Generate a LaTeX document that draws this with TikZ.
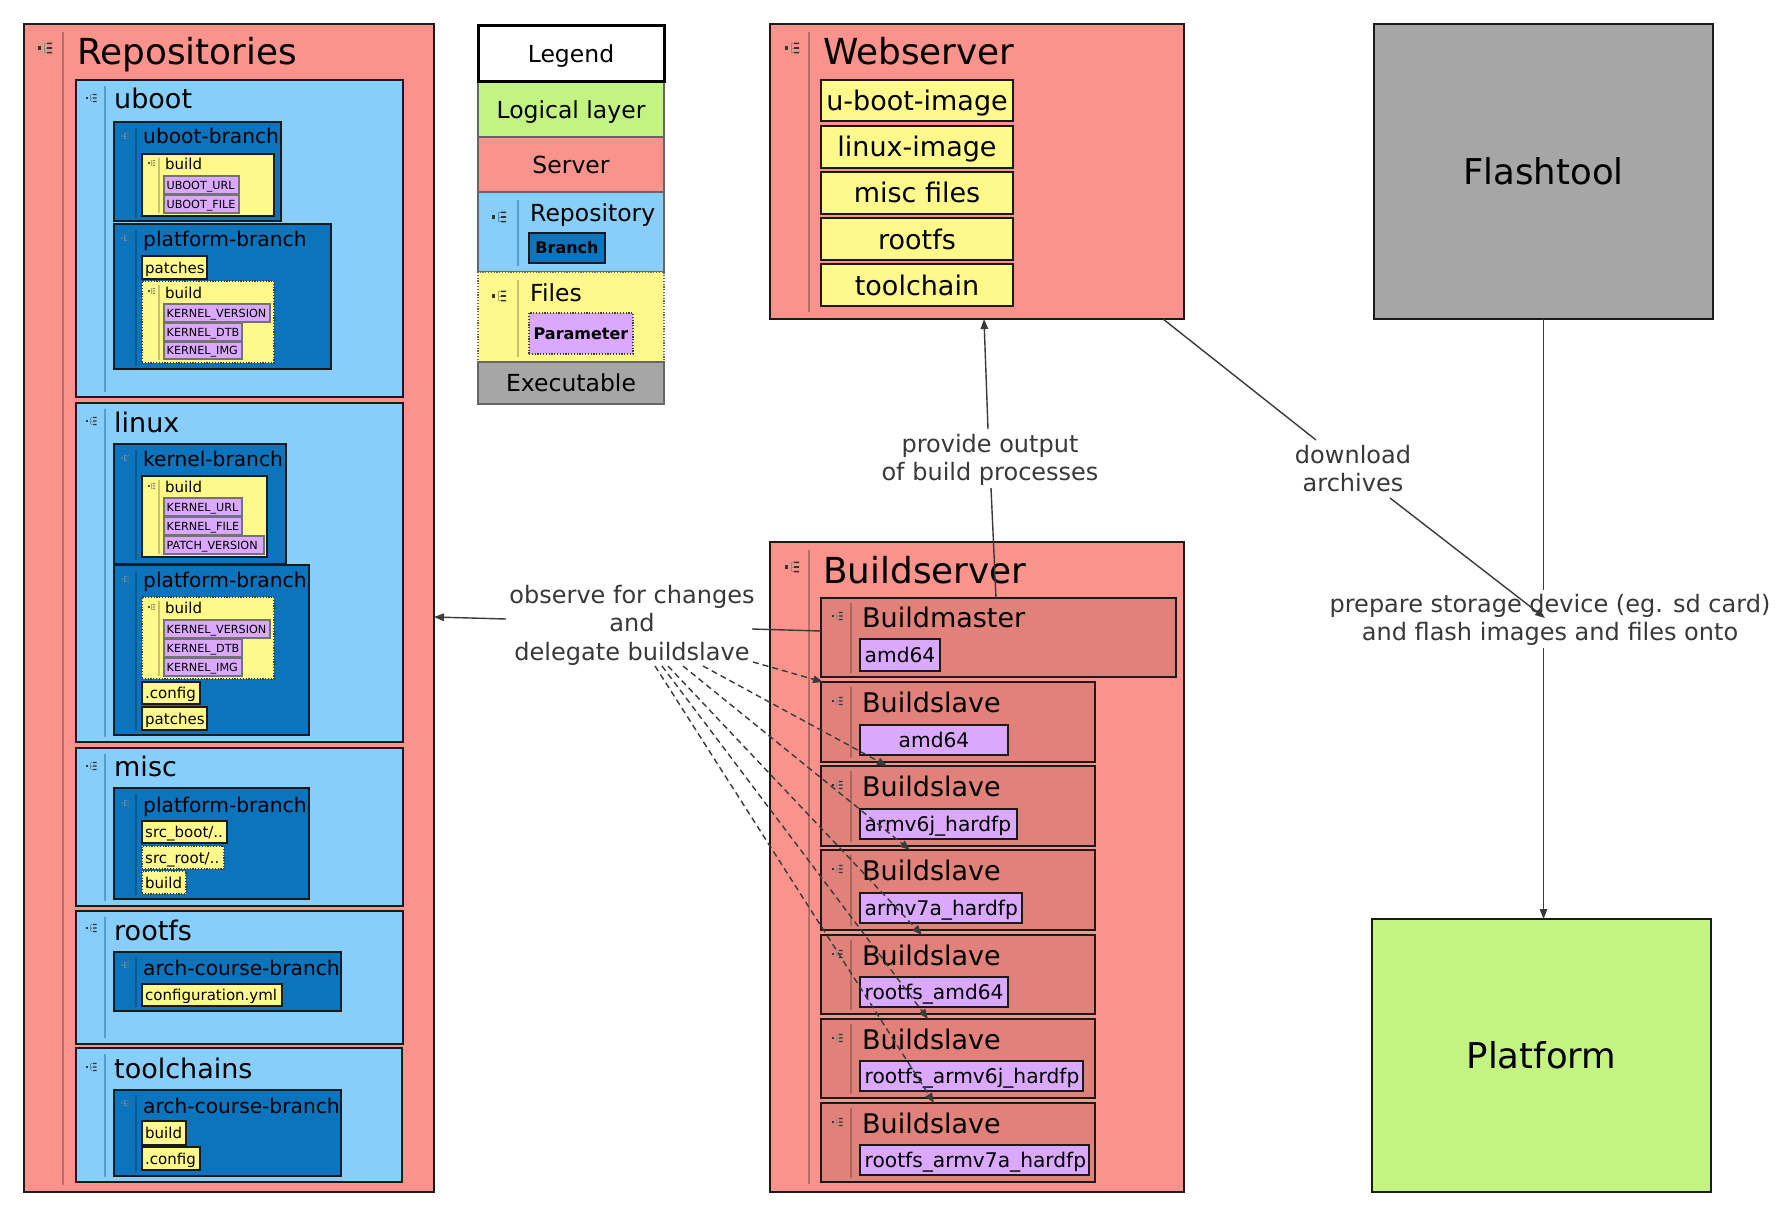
\documentclass[tikz,border=0pt]{standalone}
\usepackage{fontspec}
\setmainfont{DejaVu Sans}
\usetikzlibrary{arrows.meta}
\definecolor{srv}{HTML}{FA938C}
\definecolor{slv}{HTML}{E0827A}
\definecolor{lblue}{HTML}{87CEFA}
\definecolor{dblue}{HTML}{0B74BC}
\definecolor{yel}{HTML}{FFF98C}
\definecolor{purp}{HTML}{DAA8FC}
\definecolor{grn}{HTML}{C2F383}
\definecolor{gry}{HTML}{A6A6A6}
\definecolor{bord}{HTML}{1A1A1A}
\definecolor{edgec}{HTML}{3A3A3A}
\definecolor{elabc}{HTML}{383838}
\definecolor{sepS}{HTML}{B46F6A}
\definecolor{sepB}{HTML}{5A9CC8}
\definecolor{sepD}{HTML}{0A5A92}
\definecolor{sepY}{HTML}{C8C170}
\definecolor{sepL}{HTML}{A86660}
\definecolor{icLB}{HTML}{5D8CAE}
\definecolor{icLD}{HTML}{5B8FBF}
\definecolor{icLY}{HTML}{B0AA70}

\newcommand\bx[6]{\node[#6, minimum width={(#4-#2)*1pt}, minimum height={(#5-#3)*1pt}] (#1) at (#2,#3) {};}
\newcommand\tbl[9]{\bx{#1}{#2}{#3}{#4}{#5}{#6}\node[#7, anchor=west] (#1t) at ([xshift=#9pt]#1.west) {#8};}
\newcommand\tbc[8]{\bx{#1}{#2}{#3}{#4}{#5}{#6}\node[#7, anchor=center] (#1t) at (#1.center) {#8};}
\newcommand\ttl[5]{\node[#4, anchor=base west] (#1) at (#2,#3) {#5};}
\newcommand\sepl[4]{\draw[line width=1.2pt, #4] (#1,#2) -- (#1,#3);}
\newcommand\icn[5]{%
\begin{scope}[shift={(#1,#2)}, scale=#3]
\fill[#4] (0,-1.6) rectangle (3.2,1.6);
\draw[#5, line width=0.9pt] (6,-4.6) -- (6,4.6) (6,-4.6) -- (8.5,-4.6) (6,0) -- (8.5,0) (6,4.6) -- (8.5,4.6);
\fill[#4] (9,-5.4) rectangle (14,-3.8) (9,-0.8) rectangle (14,0.8) (9,3.8) rectangle (14,5.4);
\end{scope}}

\begin{document}
\begin{tikzpicture}[x=1pt,y=-1pt,
  box/.style={anchor=north west, inner sep=0pt, outer sep=0pt, draw=bord, line width=1.5pt},
  server/.style={box, fill=srv},
  slave/.style={box, fill=slv},
  repo/.style={box, fill=lblue},
  branch/.style={box, fill=dblue},
  file/.style={box, fill=yel},
  filedot/.style={box, fill=yel, draw=black!75, line width=1.2pt, dash pattern=on 1.2pt off 1.6pt},
  param/.style={box, fill=purp, draw=black!55, line width=1.2pt},
  bparam/.style={box, fill=purp, draw=bord, line width=1.3pt},
  lrow/.style={box, draw=black!60, line width=1.2pt},
  fA/.style={font=\fontsize{35.8}{42}\selectfont, text height=29.7pt, text depth=3.2pt, inner sep=0pt},
  fT/.style={font=\fontsize{35.5}{42}\selectfont, text height=29.5pt, text depth=3.2pt, inner sep=0pt},
  fB/.style={font=\fontsize{27}{32}\selectfont, text height=22.4pt, text depth=2.4pt, inner sep=0pt},
  fC/.style={font=\fontsize{20.2}{24}\selectfont, text height=16.8pt, text depth=1.8pt, inner sep=0pt},
  fD/.style={font=\fontsize{15}{18}\selectfont, text height=12.45pt, text depth=1.35pt, inner sep=0pt},
  fE/.style={font=\fontsize{11.2}{13}\selectfont, text height=9.3pt, text depth=1.0pt, inner sep=0pt},
  fL/.style={font=\fontsize{23.5}{28}\selectfont, text height=19.5pt, text depth=2.1pt, inner sep=0pt},
  fLB/.style={font=\fontsize{16}{19}\selectfont\bfseries, text height=13.3pt, text depth=1.4pt, inner sep=0pt},
  fEL/.style={font=\fontsize{24}{28.5}\selectfont, text=elabc, align=center, inner sep=0pt},
  edgeline/.style={draw=edgec, line width=1.4pt},
  arr/.style={edgeline, -{Triangle[length=10pt,width=7.5pt]}},
  darr/.style={arr, dash pattern=on 6pt off 4pt}
]
\fill[white] (0,0) rectangle (1780,1217);
\useasboundingbox (0,0) rectangle (1780,1217);

% ================= Repositories =================
\bx{repos}{24}{24}{434}{1192}{server}
\sepl{63}{32}{1185}{sepS}
\icn{38}{48}{1}{black!80}{black!45}
\ttl{reposT}{77}{64.5}{fA}{Repositories}

% uboot
\bx{uboot}{76}{80}{403}{397}{repo}
\sepl{105}{86}{392}{sepB}
\icn{86}{98}{0.75}{black!80}{icLB}
\ttl{ubootT}{114}{109}{fB}{uboot}

\bx{ubbr}{114}{122}{281}{221}{branch}
\sepl{136}{128}{218}{sepD}
\icn{121}{136}{0.6}{black!55}{icLD}
\ttl{ubbrT}{143}{144}{fC}{uboot-branch}
\bx{ubbuild}{142}{154}{274}{216}{file}
\sepl{159}{158}{213}{sepY}
\icn{148}{163}{0.5}{black!70}{icLY}
\ttl{ubbuildT}{165}{170}{fD}{build}
\tbl{pu1}{164}{176}{239}{194}{param}{fE}{UBOOT\_URL}{2.5}
\tbl{pu2}{164}{195}{239}{213}{param}{fE}{UBOOT\_FILE}{2.5}

\bx{ubplat}{114}{224}{331}{369}{branch}
\sepl{136}{230}{366}{sepD}
\icn{121}{238}{0.6}{black!55}{icLD}
\ttl{ubplatT}{143}{247}{fC}{platform-branch}
\tbl{ubpatch}{142}{256}{207}{279}{file}{fD}{patches}{3}
\bx{ubbuild2}{142}{281}{274}{363}{filedot}
\sepl{159}{285}{360}{sepY}
\icn{148}{291}{0.5}{black!70}{icLY}
\ttl{ubbuild2T}{165}{298}{fD}{build}
\tbl{pu3}{164}{304}{270}{322}{param}{fE}{KERNEL\_VERSION}{2.5}
\tbl{pu4}{164}{323}{242}{341}{param}{fE}{KERNEL\_DTB}{2.5}
\tbl{pu5}{164}{342}{242}{359}{param}{fE}{KERNEL\_IMG}{2.5}

% linux
\bx{linux}{76}{403}{403}{742}{repo}
\sepl{105}{409}{737}{sepB}
\icn{86}{421}{0.75}{black!80}{icLB}
\ttl{linuxT}{114}{432}{fB}{linux}

\bx{kbr}{114}{444}{286}{564}{branch}
\sepl{136}{450}{560}{sepD}
\icn{121}{458}{0.6}{black!55}{icLD}
\ttl{kbrT}{143}{466}{fC}{kernel-branch}
\bx{kbuild}{142}{476}{267}{557}{file}
\sepl{159}{480}{554}{sepY}
\icn{148}{486}{0.5}{black!70}{icLY}
\ttl{kbuildT}{165}{492}{fD}{build}
\tbl{pk1}{164}{498}{242}{516}{param}{fE}{KERNEL\_URL}{2.5}
\tbl{pk2}{164}{517}{242}{535}{param}{fE}{KERNEL\_FILE}{2.5}
\tbl{pk3}{164}{536}{264}{554}{param}{fE}{PATCH\_VERSION}{2.5}

\bx{lplat}{114}{565}{309}{735}{branch}
\sepl{136}{571}{731}{sepD}
\icn{121}{579}{0.6}{black!55}{icLD}
\ttl{lplatT}{143}{587}{fC}{platform-branch}
\bx{lbuild}{142}{597}{274}{679}{filedot}
\sepl{159}{601}{676}{sepY}
\icn{148}{607}{0.5}{black!70}{icLY}
\ttl{lbuildT}{165}{613}{fD}{build}
\tbl{pl1}{164}{620}{270}{638}{param}{fE}{KERNEL\_VERSION}{2.5}
\tbl{pl2}{164}{639}{242}{657}{param}{fE}{KERNEL\_DTB}{2.5}
\tbl{pl3}{164}{658}{242}{676}{param}{fE}{KERNEL\_IMG}{2.5}
\tbl{lconfig}{142}{682}{200}{704}{file}{fD}{.config}{3}
\tbl{lpatch}{142}{707}{207}{730}{file}{fD}{patches}{3}

% misc
\bx{misc}{76}{748}{403}{906}{repo}
\sepl{105}{754}{901}{sepB}
\icn{86}{766}{0.75}{black!80}{icLB}
\ttl{miscT}{114}{776}{fB}{misc}
\bx{mplat}{114}{788}{309}{899}{branch}
\sepl{136}{794}{895}{sepD}
\icn{121}{803}{0.6}{black!55}{icLD}
\ttl{mplatT}{143}{812}{fC}{platform-branch}
\tbl{msb}{142}{821}{227}{843}{file}{fD}{src\_boot/..}{3}
\tbl{msr}{142}{846}{224}{869}{filedot}{fD}{src\_root/..}{3}
\tbl{mbuild}{142}{871}{186}{894}{filedot}{fD}{build}{3}

% rootfs
\bx{rootfs}{76}{911}{403}{1044}{repo}
\sepl{105}{917}{1038}{sepB}
\icn{86}{928}{0.75}{black!80}{icLB}
\ttl{rootfsT}{114}{940}{fB}{rootfs}
\bx{rbr}{114}{952}{341}{1011}{branch}
\sepl{136}{957}{1007}{sepD}
\icn{121}{965}{0.6}{black!55}{icLD}
\ttl{rbrT}{143}{975}{fC}{arch-course-branch}
\tbl{rconf}{142}{984}{282}{1006}{file}{fD}{configuration.yml}{3}

% toolchains
\bx{tool}{76}{1048}{402}{1182}{repo}
\sepl{105}{1054}{1177}{sepB}
\icn{86}{1067}{0.75}{black!80}{icLB}
\ttl{toolT}{114}{1078}{fB}{toolchains}
\bx{tbr}{114}{1090}{341}{1176}{branch}
\sepl{136}{1095}{1172}{sepD}
\icn{121}{1103}{0.6}{black!55}{icLD}
\ttl{tbrT}{143}{1113}{fC}{arch-course-branch}
\tbl{tbuild}{142}{1121}{186}{1145}{file}{fD}{build}{3}
\tbl{tconf}{142}{1147}{200}{1170}{file}{fD}{.config}{3}

% ================= Legend =================
\tbc{lglogic}{478}{82}{664}{137}{lrow, fill=grn}{fL}{Logical layer}
\tbc{lgserver}{478}{137}{664}{192}{lrow, fill=srv}{fL}{Server}
\bx{lgrepo}{478}{192}{664}{272}{lrow, fill=lblue}
\sepl{518}{200}{266}{sepB}
\icn{492}{217}{1}{black!80}{icLB}
\ttl{lgrepoT}{530}{222}{fL}{Repository}
\tbc{lgbranch}{529}{233}{605}{263}{branch, line width=1.2pt}{fLB}{Branch}
\bx{lgfiles}{478}{272}{664}{362}{lrow, fill=yel, dash pattern=on 1.2pt off 1.6pt}
\sepl{518}{280}{357}{sepY}
\icn{492}{296}{1}{black!80}{icLY}
\ttl{lgfilesT}{530}{301}{fL}{Files}
\tbc{lgparam}{529}{313}{633}{354}{param, draw=black!75, dash pattern=on 1.2pt off 1.6pt}{fLB}{Parameter}
\tbc{lgexec}{478}{362}{664}{404}{lrow, fill=gry}{fL}{Executable}
\tbc{legend}{478}{26}{664}{82}{box, fill=white, draw=black, line width=3pt}{fL}{Legend}

% ================= Webserver =================
\bx{web}{770}{24}{1184}{319}{server}
\sepl{809}{32}{312}{sepS}
\icn{785}{48}{1}{black!80}{black!45}
\ttl{webT}{823}{64.5}{fA}{Webserver}
\tbc{w1}{821}{80}{1013}{121}{file}{fB}{u-boot-image}
\tbc{w2}{821}{126}{1013}{168}{file}{fB}{linux-image}
\tbc{w3}{821}{172}{1013}{214}{file}{fB}{misc files}
\tbc{w4}{821}{218}{1013}{260}{file}{fB}{rootfs}
\tbc{w5}{821}{264}{1013}{306}{file}{fB}{toolchain}

% ================= Buildserver =================
\bx{bsrv}{770}{542}{1184}{1192}{server}
\sepl{809}{550}{1184}{sepS}
\icn{785}{567}{1}{black!80}{black!45}
\ttl{bsrvT}{823}{583}{fA}{Buildserver}

\bx{bm}{821}{598}{1176}{677}{slave}
\sepl{851}{603}{673}{sepL}
\icn{832}{616}{0.75}{black!80}{black!45}
\ttl{bmT}{862}{627}{fB}{Buildmaster}
\tbl{bmp}{860}{639}{940}{671}{bparam}{fC}{amd64}{4.5}

\bx{bs1}{821}{682}{1095}{762}{slave}
\sepl{851}{687}{758}{sepL}
\icn{832}{701}{0.75}{black!80}{black!45}
\ttl{bs1T}{862}{712}{fB}{Buildslave}
\tbc{bs1p}{860}{725}{1008}{755}{bparam}{fC}{amd64}

\bx{bs2}{821}{766}{1095}{846}{slave}
\sepl{851}{771}{842}{sepL}
\icn{832}{785}{0.75}{black!80}{black!45}
\ttl{bs2T}{862}{796}{fB}{Buildslave}
\tbl{bs2p}{860}{809}{1017}{839}{bparam}{fC}{armv6j\_hardfp}{4.5}

\bx{bs3}{821}{850}{1095}{930}{slave}
\sepl{851}{855}{926}{sepL}
\icn{832}{869}{0.75}{black!80}{black!45}
\ttl{bs3T}{862}{880}{fB}{Buildslave}
\tbl{bs3p}{860}{893}{1022}{923}{bparam}{fC}{armv7a\_hardfp}{4.5}

\bx{bs4}{821}{935}{1095}{1014}{slave}
\sepl{851}{940}{1010}{sepL}
\icn{832}{954}{0.75}{black!80}{black!45}
\ttl{bs4T}{862}{965}{fB}{Buildslave}
\tbl{bs4p}{860}{977}{1008}{1007}{bparam}{fC}{rootfs\_amd64}{4.5}

\bx{bs5}{821}{1019}{1095}{1098}{slave}
\sepl{851}{1024}{1094}{sepL}
\icn{832}{1038}{0.75}{black!80}{black!45}
\ttl{bs5T}{862}{1049}{fB}{Buildslave}
\tbl{bs5p}{860}{1061}{1083}{1091}{bparam}{fC}{rootfs\_armv6j\_hardfp}{4.5}

\bx{bs6}{821}{1103}{1095}{1182}{slave}
\sepl{851}{1108}{1178}{sepL}
\icn{832}{1122}{0.75}{black!80}{black!45}
\ttl{bs6T}{862}{1133}{fB}{Buildslave}
\tbl{bs6p}{860}{1145}{1089}{1175}{bparam}{fC}{rootfs\_armv7a\_hardfp}{4.5}

% ================= Flashtool / Platform =================
\tbc{ft}{1374}{24}{1713}{319}{box, fill=gry}{fT}{Flashtool}
\tbc{pf}{1372}{919}{1711}{1192}{box, fill=grn}{fT}{Platform}

% ================= Edge labels =================
\node[fEL, anchor=north] (lab1) at (632,585) {observe for changes\\and\\delegate buildslave};
\node[fEL, anchor=north] (lab2) at (990,434) {provide output\\of build processes};
\node[fEL, anchor=north] (lab3) at (1353,445) {download\\archives};
\node[fEL, anchor=north] (lab4) at (1550,594) {prepare storage device (eg. sd card)\\and flash images and files onto};

% named free ends
\coordinate (l1end) at (752,629);
\coordinate (l1start) at (506,619);
\coordinate (d1) at (753,662);
\coordinate (d2) at (703,666);
\coordinate (d3) at (683,666);
\coordinate (d4) at (668,666);
\coordinate (d5) at (662,666);
\coordinate (d6) at (655,666);
\coordinate (l2lo) at (991,488);
\coordinate (l2hi) at (988,429);
\coordinate (dl1) at (1316,440);
\coordinate (dl2) at (1390,498);
\coordinate (dltip) at (1545,618);

% ================= Edges =================
\draw[edgeline] (bm.west |- 0,631) -- (l1end);
\draw[arr] (l1start) -- (repos.east |- 0,617);
\draw[darr] (d1) -- (823,0 |- bs1.north);
\draw[darr] (d2) -- (887,0 |- bs2.north);
\draw[darr] (d3) -- (910,0 |- bs3.north);
\draw[darr] (d4) -- (922,0 |- bs4.north);
\draw[darr] (d5) -- (928,0 |- bs5.north);
\draw[darr] (d6) -- (934,0 |- bs6.north);

\draw[edgeline] (996,0 |- bm.north) -- (l2lo);
\draw[arr] (l2hi) -- (984,0 |- web.south);

\draw[edgeline] (1163,0 |- web.south) -- (dl1);
\draw[arr] (dl2) -- (dltip);

\draw[edgeline] (ft.south) -- (ft.south |- 0,590);
\draw[arr] (ft.south |- 0,648) -- (pf.north -| ft.south);
\end{tikzpicture}
\end{document}
